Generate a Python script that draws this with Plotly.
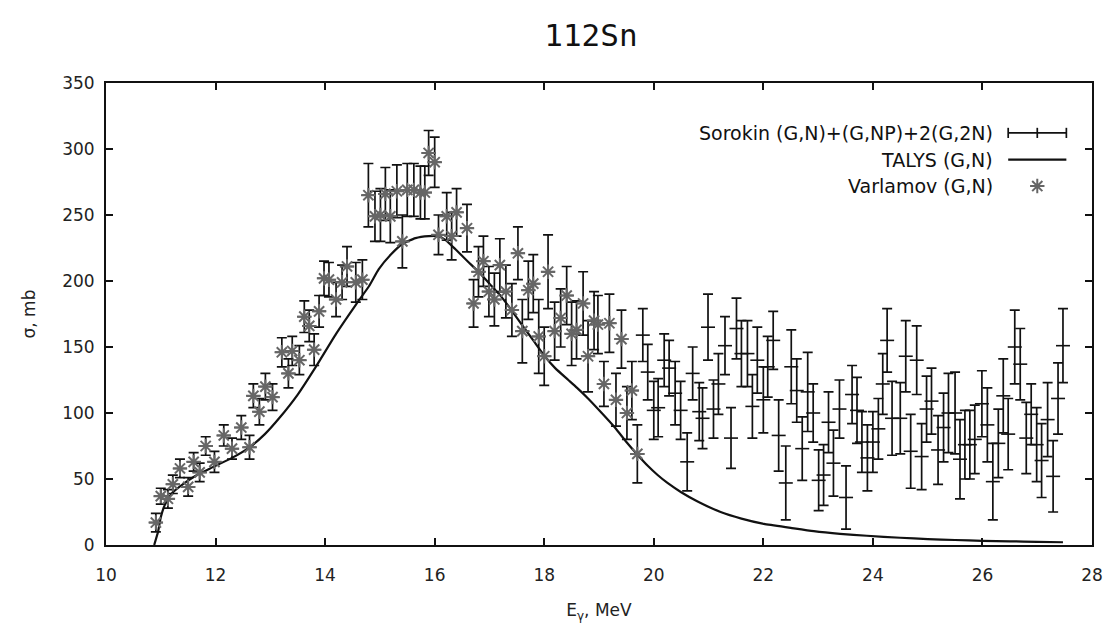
import plotly.graph_objects as go

# Sorokin (G,N)+(G,NP)+2(G,2N): energy [MeV], cross section [mb], uncertainty [mb]
sorokin_e = [10.91, 11.00, 11.13, 11.22, 11.35, 11.50, 11.60, 11.71, 11.82, 11.98,
             12.15, 12.30, 12.47, 12.62, 12.69, 12.80, 12.91, 13.04, 13.21, 13.33,
             13.40, 13.53, 13.62, 13.71, 13.80, 13.89, 13.98, 14.07, 14.20, 14.31,
             14.40, 14.56, 14.68, 14.79, 14.91, 15.01, 15.10, 15.19, 15.31, 15.41,
             15.50, 15.62, 15.74, 15.82, 15.89, 16.00, 16.07, 16.22, 16.31, 16.40,
             16.59, 16.71, 16.80, 16.89, 16.99, 17.09, 17.19, 17.30, 17.41, 17.52,
             17.60, 17.71, 17.80, 17.90, 18.00, 18.07, 18.19, 18.30, 18.41, 18.50,
             18.59, 18.71, 18.80, 18.91, 18.98, 19.09, 19.19, 19.31, 19.41, 19.51,
             19.60, 19.70, 19.80, 19.89, 20.00, 20.08, 20.19, 20.28, 20.39, 20.49,
             20.61, 20.71, 20.83, 20.89, 20.99, 21.09, 21.18, 21.30, 21.41, 21.51,
             21.60, 21.71, 21.80, 21.89, 22.00, 22.08, 22.18, 22.28, 22.41, 22.51,
             22.61, 22.71, 22.81, 22.91, 23.01, 23.10, 23.19, 23.28, 23.39, 23.51,
             23.62, 23.71, 23.80, 23.90, 24.00, 24.10, 24.18, 24.26, 24.35, 24.50,
             24.60, 24.69, 24.80, 24.89, 24.98, 25.07, 25.19, 25.29, 25.38, 25.50,
             25.59, 25.68, 25.77, 25.86, 25.99, 26.09, 26.19, 26.29, 26.38, 26.47,
             26.59, 26.69, 26.80, 26.89, 26.99, 27.08, 27.19, 27.29, 27.38, 27.47]
sorokin_sigma = [17, 37, 35, 46, 58, 44, 63, 55, 75, 63,
                 83, 73, 89, 74, 113, 101, 120, 112, 146, 130,
                 147, 140, 173, 166, 148, 177, 202, 201, 186, 199,
                 211, 199, 201, 265, 249, 250, 266, 249, 268, 230,
                 269, 269, 267, 267, 297, 290, 235, 249, 234, 252,
                 240, 183, 207, 215, 192, 186, 212, 192, 178, 221,
                 162, 193, 198, 158, 143, 207, 162, 172, 189, 160,
                 163, 183, 143, 170, 167, 122, 168, 110, 156, 100,
                 117, 69, 159, 131, 102, 104, 140, 134, 115, 102,
                 63, 130, 101, 96, 165, 103, 122, 151, 81, 164,
                 145, 145, 105, 140, 110, 135, 155, 83, 47, 135,
                 117, 73, 116, 100, 49, 53, 93, 62, 103, 36,
                 114, 102, 78, 66, 78, 88, 122, 155, 96, 96,
                 143, 71, 140, 67, 103, 109, 72, 89, 100, 100,
                 65, 76, 76, 80, 107, 91, 48, 77, 113, 84,
                 150, 137, 81, 99, 76, 64, 95, 52, 111, 151]
sorokin_err = [7, 6, 7, 7, 7, 7, 7, 7, 7, 8,
               8, 8, 9, 9, 9, 10, 10, 10, 11, 11,
               11, 11, 12, 12, 12, 12, 13, 13, 13, 13,
               15, 15, 15, 24, 19, 20, 20, 20, 20, 20,
               20, 20, 20, 20, 17, 19, 15, 18, 18, 18,
               18, 18, 19, 19, 19, 20, 20, 20, 20, 20,
               24, 22, 22, 28, 22, 28, 22, 22, 22, 24,
               22, 24, 27, 22, 22, 17, 22, 20, 22, 20,
               22, 22, 20, 21, 22, 22, 20, 21, 24, 22,
               22, 20, 22, 23, 25, 22, 23, 22, 23, 23,
               25, 25, 24, 25, 25, 23, 22, 27, 28, 28,
               24, 24, 30, 22, 23, 23, 23, 25, 22, 24,
               22, 25, 23, 25, 23, 23, 23, 24, 28, 27,
               27, 28, 26, 25, 25, 25, 26, 26, 30, 31,
               30, 26, 26, 26, 25, 28, 29, 26, 28, 27,
               28, 27, 27, 23, 28, 28, 28, 27, 27, 28]

# TALYS (G,N) calculation
talys_e = [10.88, 10.95, 11.00, 11.07, 11.20, 11.47, 11.70, 11.95, 12.30, 12.62,
           12.90, 13.16, 13.50, 13.83, 14.20, 14.56, 14.80, 14.98, 15.20, 15.41,
           15.65, 15.89, 16.07, 16.20, 16.38, 16.60, 16.80, 17.00, 17.22, 17.40,
           17.59, 17.80, 18.01, 18.20, 18.44, 18.60, 18.80, 19.05, 19.29, 19.50,
           19.71, 19.89, 20.07, 20.25, 20.50, 20.80, 21.22, 21.60, 22.01, 22.50,
           22.92, 23.40, 23.89, 24.50, 25.00, 25.50, 26.00, 26.50, 27.00, 27.47]
talys_sigma = [0, 10, 21, 30, 39, 48, 54, 59, 66, 74,
               84, 96, 114, 135, 160, 182, 196, 209, 220, 228,
               232.5, 234, 234, 231, 224, 215, 207, 198, 188, 178,
               167, 155, 143, 134, 125, 119, 111, 100, 89, 78,
               68, 60, 53, 47, 40, 33, 25, 20, 16, 13,
               10.5, 8.5, 7, 5.5, 4.5, 3.8, 3.2, 2.8, 2.4, 2.1]

# Varlamov (G,N) evaluated data
varlamov_e = sorokin_e[:82]
varlamov_sigma = [17, 37, 35, 46, 58, 44, 63, 55, 75, 63,
                  83, 73, 89, 74, 113, 101, 120, 112, 146, 130,
                  147, 140, 173, 166, 148, 177, 202, 201, 186, 199,
                  211, 199, 201, 265, 249, 250, 266, 249, 268, 230,
                  269, 269, 267, 267, 297, 290, 235, 249, 234, 252,
                  240, 183, 207, 215, 192, 186, 212, 192, 178, 221,
                  162, 193, 198, 158, 143, 207, 162, 172, 189, 160,
                  163, 183, 143, 170, 167, 122, 168, 110, 156, 100,
                  117, 69]

x_ticks = [10, 12, 14, 16, 18, 20, 22, 24, 26, 28]
y_ticks = [0, 50, 100, 150, 200, 250, 300, 350]
legend_labels = ["Sorokin (G,N)+(G,NP)+2(G,2N)", "TALYS (G,N)", "Varlamov (G,N)"]

INK = "#111111"
STAR = "#666666"
FONT = "DejaVu Sans"

fig = go.Figure()

fig.add_trace(go.Scatter(
    x=sorokin_e, y=sorokin_sigma, mode="markers", name=legend_labels[0],
    marker=dict(symbol="line-ew", size=10, color=INK, line=dict(width=1.6, color=INK)),
    error_y=dict(type="data", array=sorokin_err, visible=True, color=INK,
                 thickness=1.7, width=5),
    showlegend=False,
))
fig.add_trace(go.Scatter(
    x=talys_e, y=talys_sigma, mode="lines", name=legend_labels[1],
    line=dict(color=INK, width=2.2, shape="spline", smoothing=0.5),
    showlegend=False,
))
fig.add_trace(go.Scatter(
    x=varlamov_e, y=varlamov_sigma, mode="markers", name=legend_labels[2],
    marker=dict(symbol="asterisk-open", size=12, color=STAR, line=dict(width=2, color=STAR)),
    showlegend=False,
))

# key block in the upper right: right-aligned labels with samples after them
row_y = [0.892, 0.834, 0.777]
text_right = 0.902
s_x0, s_x1 = 0.915, 0.974
s_xm = (s_x0 + s_x1) / 2
for lbl, yy in zip(legend_labels, row_y):
    fig.add_annotation(x=text_right, y=yy, xref="paper", yref="paper", text=lbl,
                       showarrow=False, xanchor="right", yanchor="middle",
                       font=dict(family=FONT, size=19, color=INK))
tick_h = 0.011
line_style = dict(color=INK, width=1.7)
fig.add_shape(type="line", xref="paper", yref="paper", x0=s_x0, x1=s_x1,
              y0=row_y[0], y1=row_y[0], line=line_style)
for xx in (s_x0, s_xm, s_x1):
    fig.add_shape(type="line", xref="paper", yref="paper", x0=xx, x1=xx,
                  y0=row_y[0] - tick_h, y1=row_y[0] + tick_h, line=line_style)
fig.add_shape(type="line", xref="paper", yref="paper", x0=s_x0, x1=s_x1,
              y0=row_y[1], y1=row_y[1], line=dict(color=INK, width=2.2))
fig.add_trace(go.Scatter(
    x=[s_xm], y=[row_y[2]], xaxis="x2", yaxis="y2", mode="markers",
    marker=dict(symbol="asterisk-open", size=12, color=STAR, line=dict(width=2, color=STAR)),
    showlegend=False, hoverinfo="skip",
))

axis_common = dict(
    showgrid=False, zeroline=False, showline=True, linecolor=INK, linewidth=2,
    mirror="ticks", ticks="inside", ticklen=7, tickwidth=1.6, tickcolor=INK,
    tickfont=dict(family=FONT, size=17, color="#222222"),
)

fig.update_layout(
    width=1115, height=632,
    margin=dict(l=106, r=19, t=83, b=87),
    paper_bgcolor="white", plot_bgcolor="white",
    title=dict(text="112Sn", x=0.53, xanchor="center", y=0.945, yanchor="middle",
               font=dict(family="DejaVu Sans Mono", size=31, color=INK)),
    xaxis=dict(range=[10, 28], tickvals=x_ticks, ticklabelstandoff=14,
               title=dict(text="E<sub>γ</sub>, MeV", standoff=20,
                          font=dict(family=FONT, size=17, color="#222222")),
               **axis_common),
    yaxis=dict(range=[0, 350], tickvals=y_ticks, ticklabelstandoff=6,
               title=dict(text="σ, mb", standoff=22,
                          font=dict(family=FONT, size=17, color="#222222")),
               **axis_common),
    xaxis2=dict(overlaying="x", range=[0, 1], visible=False, domain=[0, 1]),
    yaxis2=dict(overlaying="y", range=[0, 1], visible=False),
    showlegend=False,
)

fig.write_html("out.html")
